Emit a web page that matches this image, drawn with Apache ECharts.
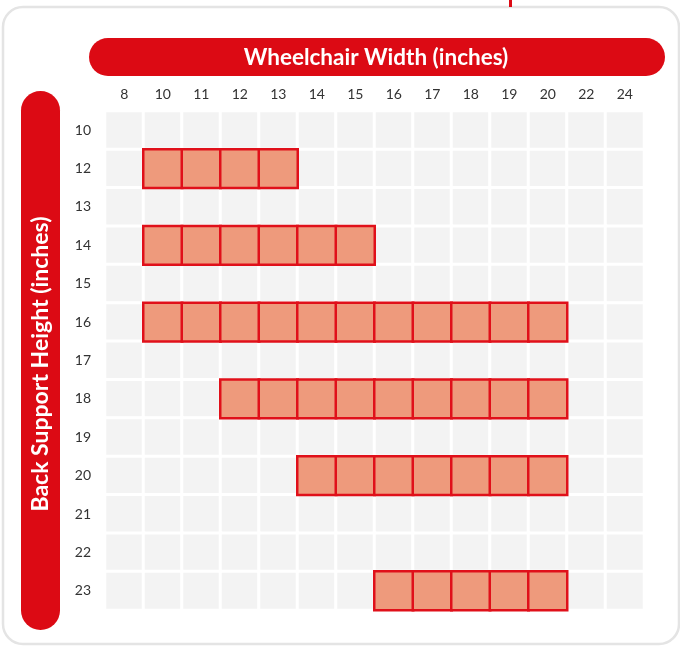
<!DOCTYPE html>
<html>
<head>
<meta charset="utf-8">
<script src="https://cdn.jsdelivr.net/npm/echarts@6/dist/echarts.min.js"></script>
<style>
  html, body { margin: 0; padding: 0; background: #ffffff; }
  #chart { width: 680px; height: 646px; }
</style>
</head>
<body>
<div id="chart"></div>
<script>
// Wheelchair widths (columns) and back support heights (rows), in inches
const widths = ['8', '10', '11', '12', '13', '14', '15', '16', '17', '18', '19', '20', '22', '24'];
const heights = ['10', '12', '13', '14', '15', '16', '17', '18', '19', '20', '21', '22', '23'];

// Available widths for each offered back support height
const height12 = ['10', '11', '12', '13'];
const height14 = ['10', '11', '12', '13', '14', '15'];
const height16 = ['10', '11', '12', '13', '14', '15', '16', '17', '18', '19', '20'];
const height18 = ['12', '13', '14', '15', '16', '17', '18', '19', '20'];
const height20 = ['14', '15', '16', '17', '18', '19', '20'];
const height23 = ['16', '17', '18', '19', '20'];

const availability = [
  ['12', height12],
  ['14', height14],
  ['16', height16],
  ['18', height18],
  ['20', height20],
  ['23', height23]
];

const RED = '#dc0a14';
const FONT = 'Lato, "Open Sans", sans-serif';

// every cell of the size grid
const allCells = [];
heights.forEach(h => widths.forEach(w => allCells.push([w, h, 0])));

// available combinations
const fitCells = [];
availability.forEach(([h, ws]) => ws.forEach(w => fitCells.push([w, h, 1])));

const chart = echarts.init(document.getElementById('chart'), null, { renderer: 'canvas' });

chart.setOption({
  animation: false,
  backgroundColor: '#ffffff',
  grid: { left: 105, right: 36, top: 111, bottom: 36 },
  xAxis: {
    type: 'category',
    position: 'top',
    data: widths,
    axisLine: { show: false },
    axisTick: { show: false },
    splitLine: { show: false },
    axisLabel: { color: '#333333', fontSize: 14, fontFamily: FONT, margin: 10 }
  },
  yAxis: {
    type: 'category',
    inverse: true,
    data: heights,
    axisLine: { show: false },
    axisTick: { show: false },
    splitLine: { show: false },
    axisLabel: { color: '#333333', fontSize: 14, fontFamily: FONT, margin: 14 }
  },
  series: [
    {
      type: 'heatmap',
      data: allCells,
      silent: true,
      itemStyle: { color: '#f3f3f3', borderColor: '#ffffff', borderWidth: 3 },
      emphasis: { disabled: true }
    },
    {
      type: 'heatmap',
      data: fitCells,
      silent: true,
      itemStyle: { color: '#ee9a7c', borderColor: '#e0101a', borderWidth: 2.5 },
      emphasis: { disabled: true }
    }
  ],
  graphic: [
    // outer card
    {
      type: 'rect', z: -10, silent: true,
      shape: { x: 3, y: 7, width: 676, height: 637, r: 20 },
      style: { fill: '#ffffff', stroke: '#e4e4e4', lineWidth: 2.5 }
    },
    // small red marker at top edge
    {
      type: 'rect', z: -5, silent: true,
      shape: { x: 509, y: 0, width: 3, height: 7 },
      style: { fill: RED }
    },
    // horizontal axis title pill
    {
      type: 'group', silent: true,
      children: [
        {
          type: 'rect',
          shape: { x: 89, y: 38, width: 576, height: 38, r: 19 },
          style: { fill: RED }
        },
        {
          type: 'text',
          x: 376, y: 58,
          style: {
            text: 'Wheelchair Width (inches)',
            fill: '#ffffff',
            font: 'bold 22.5px ' + FONT,
            align: 'center',
            verticalAlign: 'middle'
          }
        }
      ]
    },
    // vertical axis title pill
    {
      type: 'group', silent: true,
      children: [
        {
          type: 'rect',
          shape: { x: 21, y: 91, width: 39, height: 539, r: 19.5 },
          style: { fill: RED }
        },
        {
          type: 'text',
          x: 41, y: 364,
          rotation: Math.PI / 2,
          style: {
            text: 'Back Support Height (inches)',
            fill: '#ffffff',
            font: 'bold 23px ' + FONT,
            align: 'center',
            verticalAlign: 'middle'
          }
        }
      ]
    }
  ]
});
</script>
</body>
</html>
